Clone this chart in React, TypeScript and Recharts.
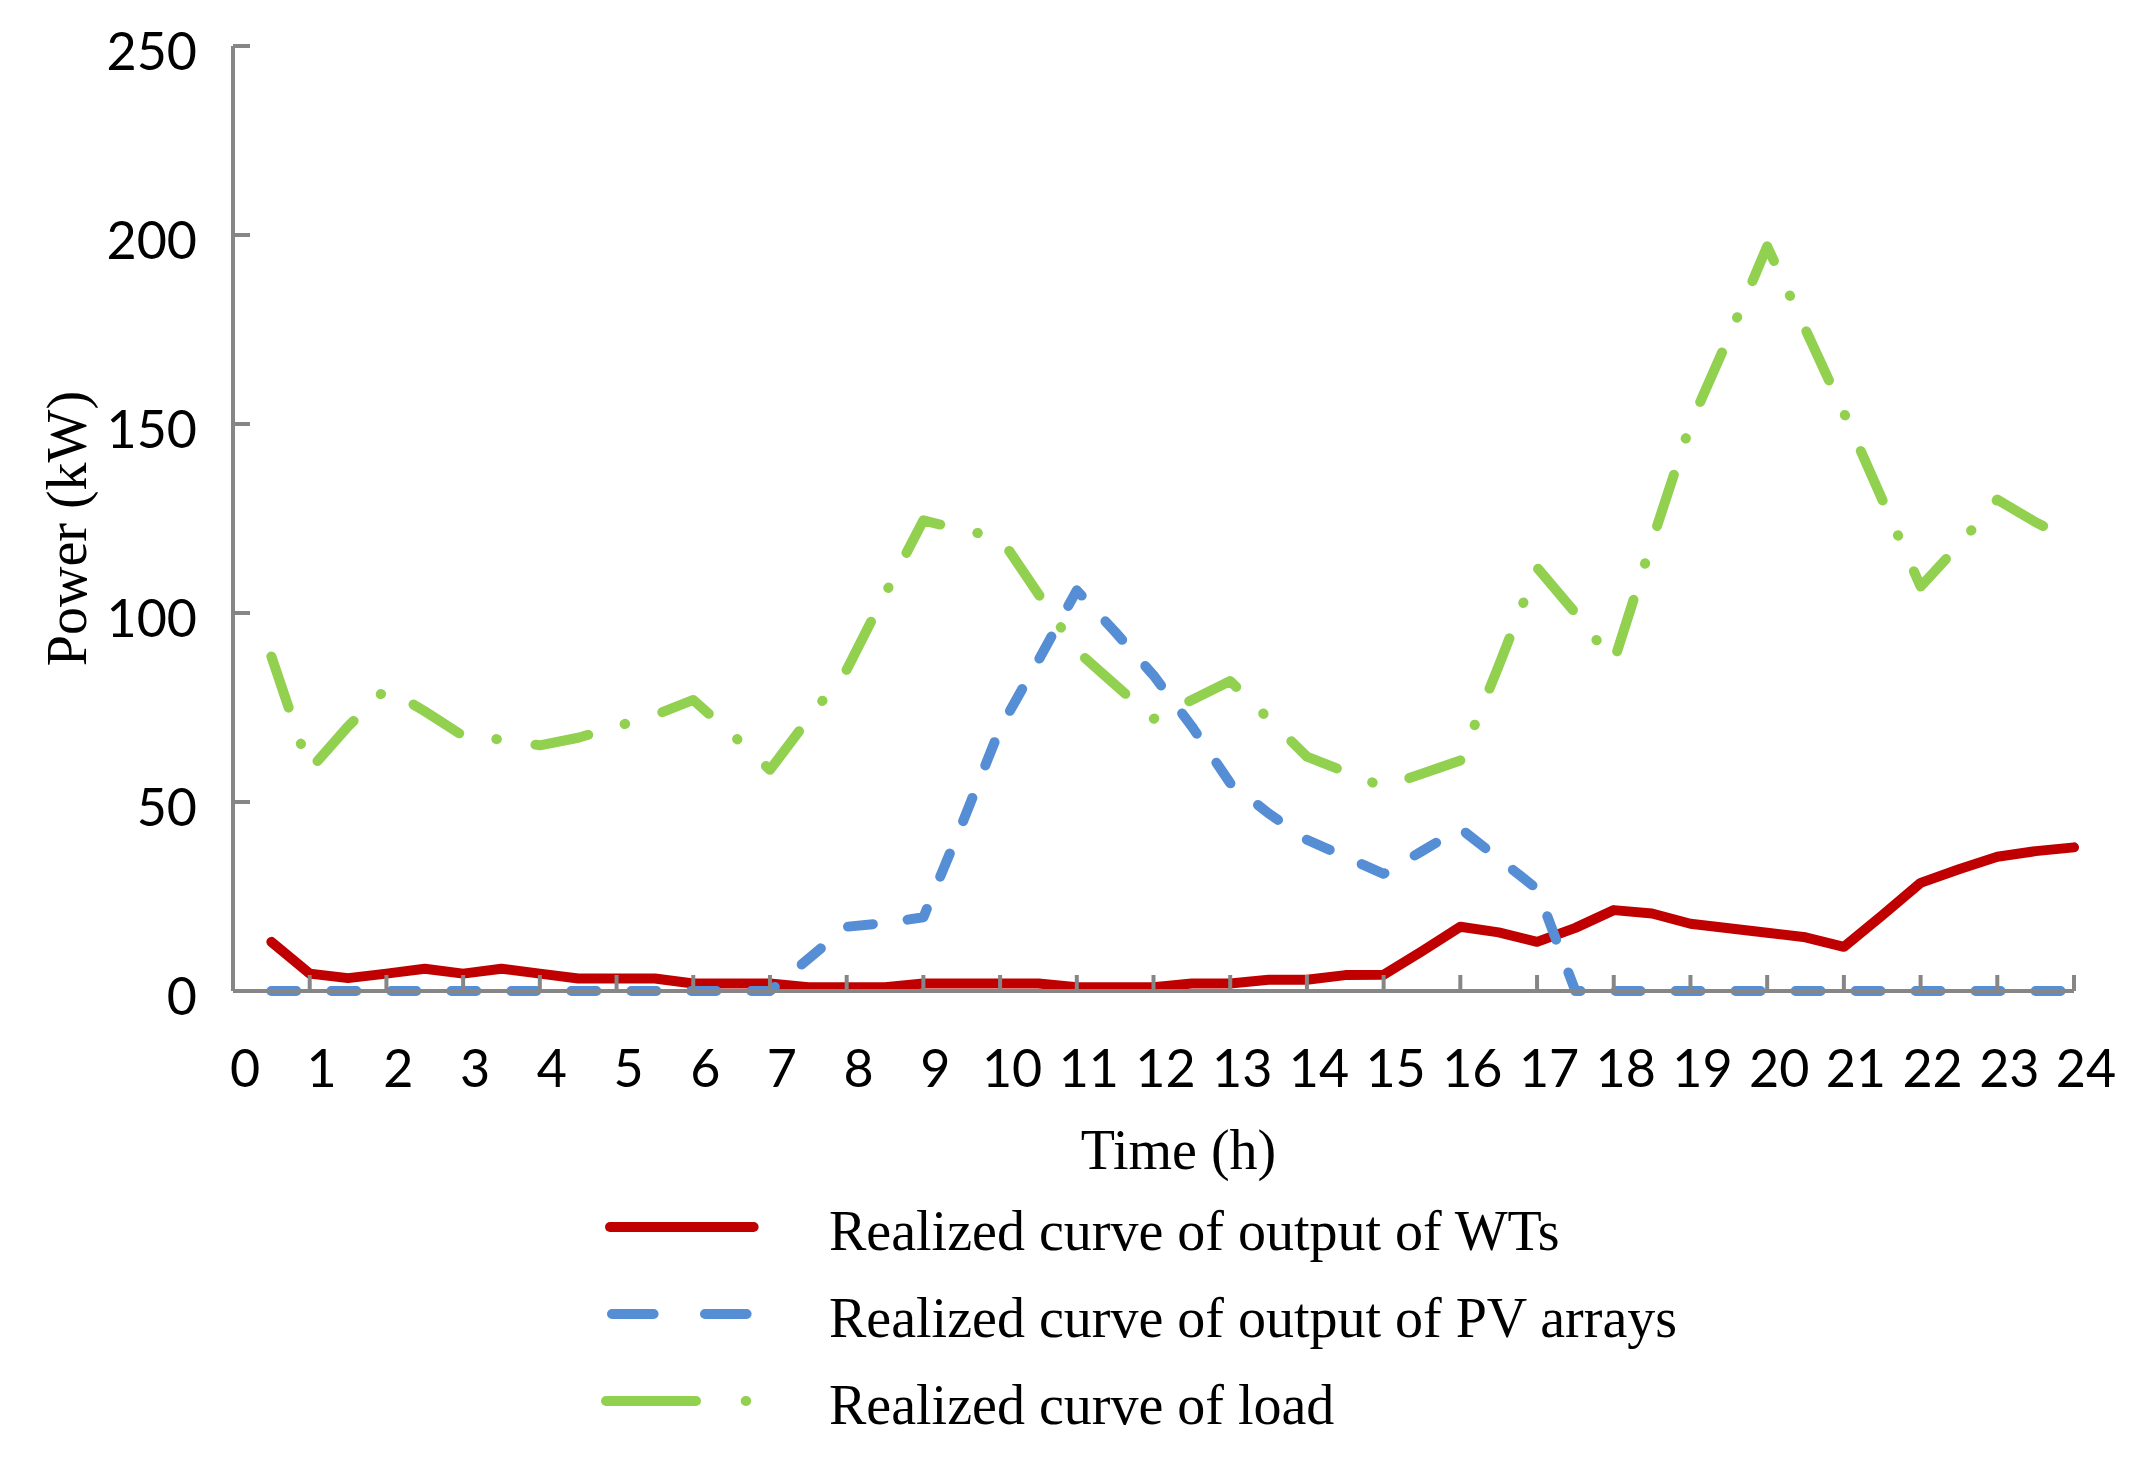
import React from "react";
import {
  LineChart,
  Line,
  XAxis,
  YAxis,
  Legend,
} from "recharts";

// half-hour steps, 0.5 h .. 24 h
const hours = [
  0.5, 1, 1.5, 2, 2.5, 3, 3.5, 4, 4.5, 5, 5.5, 6, 6.5, 7, 7.5, 8,
  8.5, 9, 9.5, 10, 10.5, 11, 11.5, 12, 12.5, 13, 13.5, 14, 14.5, 15, 15.5, 16,
  16.5, 17, 17.5, 18, 18.5, 19, 19.5, 20, 20.5, 21, 21.5, 22, 22.5, 23, 23.5, 24,
];

const wtOutput = [
  13, 4.6, 3.4, 4.6, 5.9, 4.6, 5.9, 4.6, 3.3, 3.3, 3.3, 2, 2, 2, 1, 1,
  1, 2, 2, 2, 2, 1, 1, 1, 2, 2, 3, 3, 4.2, 4.3, 10.5, 17,
  15.5, 13, 16.7, 21.4, 20.5, 17.8, 16.6, 15.4, 14.2, 11.7, 20, 28.6, 32.2, 35.5, 37, 38,
];

const pvOutput = [
  0, 0, 0, 0, 0, 0, 0, 0, 0, 0, 0, 0, 0, 0, 8.5, 17,
  18, 19.5, 44, 69.5, 87.5, 106, 95, 83.5, 70, 55, 47, 40, 35.5, 31, 37, 43,
  35, 27, 0, 0, 0, 0, 0, 0, 0, 0, 0, 0, 0, 0, 0, 0,
];

const loadPower = [
  88.5, 58.5, 70, 80, 74, 67.5, 66.5, 65, 67, 70, 73, 77, 68, 58.5, 72, 85,
  105, 124.5, 122, 120, 105, 90, 81, 72, 77, 82, 72, 62, 58, 54, 57.5, 61,
  86, 112, 100, 87, 119, 150, 173, 197, 175, 153, 130, 107, 118, 130, 124, 119,
];

const xTicks = [0, 1, 2, 3, 4, 5, 6, 7, 8, 9, 10, 11, 12, 13, 14, 15, 16, 17, 18, 19, 20, 21, 22, 23, 24];
const yTicks = [0, 50, 100, 150, 200, 250];

const data = hours.map((h, i) => ({
  hour: h,
  wt: wtOutput[i],
  pv: pvOutput[i],
  load: loadPower[i],
}));

const AXIS = "#868686";
const RED = "#C00000";
const BLUE = "#558ED5";
const GREEN = "#92D050";
const NUM_FONT = "Lato, Calibri, sans-serif";
const SERIF = '"Liberation Serif", "Times New Roman", serif';
const LW = 10;

const XTick = (props: any) => {
  const { x, y, payload } = props;
  return (
    <g>
      <line x1={x} x2={x} y1={y} y2={y - 16} stroke={AXIS} strokeWidth={4} />
      <text x={x + 12} y={y + 96} textAnchor="middle" fontFamily={NUM_FONT} fontSize={52} fill="#000">
        {payload.value}
      </text>
    </g>
  );
};

const YTick = (props: any) => {
  const { x, y, payload } = props;
  return (
    <g>
      <line x1={x} x2={x + 17} y1={y} y2={y} stroke={AXIS} strokeWidth={4} />
      <text x={x - 36} y={y + 24} textAnchor="end" fontFamily={NUM_FONT} fontSize={52} fill="#000">
        {payload.value}
      </text>
    </g>
  );
};

const legendRows = [
  { label: "Realized curve of output of WTs", color: RED, x1: 5, x2: 148.6, dash: undefined },
  { label: "Realized curve of output of PV arrays", color: BLUE, x1: 7, x2: 141.6, dash: "41.6 51.4" },
  { label: "Realized curve of load", color: GREEN, x1: 1, x2: 142, dash: "90 49.7 0.5 100" },
];

const LegendBox = () => (
  <div style={{ height: 264, paddingLeft: 597, boxSizing: "border-box" }}>
    {legendRows.map((r) => (
      <div key={r.label} style={{ display: "flex", height: 87 }}>
        <svg width={224} height={87} style={{ overflow: "visible", flex: "none" }}>
          <line
            x1={r.x1}
            x2={r.x2}
            y1={39}
            y2={39}
            stroke={r.color}
            strokeWidth={LW}
            strokeLinecap="round"
            strokeDasharray={r.dash}
          />
        </svg>
        <span style={{ fontFamily: SERIF, fontSize: 56, lineHeight: "87px", whiteSpace: "nowrap", color: "#000" }}>
          {r.label}
        </span>
      </div>
    ))}
  </div>
);

export default function App() {
  return (
    <LineChart
      width={2128}
      height={1444}
      data={data}
      margin={{ top: 38, right: 62, left: 0, bottom: 0 }}
    >
      <XAxis
        dataKey="hour"
        type="number"
        domain={[0, 24]}
        ticks={xTicks}
        interval={0}
        height={197}
        tickSize={0}
        tickMargin={0}
        tick={<XTick />}
        axisLine={{ stroke: AXIS, strokeWidth: 4 }}
        tickLine={false}
        label={{
          content: (p: any) => (
            <text
              x={p.viewBox.x + p.viewBox.width / 2 + 25}
              y={p.viewBox.y + 178}
              textAnchor="middle"
              fontFamily={SERIF}
              fontSize={56}
              fill="#000"
            >
              Time (h)
            </text>
          ),
        }}
      />
      <YAxis
        type="number"
        domain={[0, 250]}
        ticks={yTicks}
        interval={0}
        width={225}
        tickSize={0}
        tickMargin={0}
        tick={<YTick />}
        axisLine={{ stroke: AXIS, strokeWidth: 4 }}
        tickLine={false}
        label={{
          content: (p: any) => {
            const cx = 78;
            const cy = p.viewBox.y + p.viewBox.height / 2 + 10;
            return (
              <text
                x={cx}
                y={cy}
                transform={`rotate(-90, ${cx}, ${cy})`}
                textAnchor="middle"
                fontFamily={SERIF}
                fontSize={56}
                fill="#000"
              >
                Power (kW)
              </text>
            );
          },
        }}
      />
      <Legend verticalAlign="bottom" align="left" height={264} content={() => <LegendBox />} />
      <Line
        dataKey="wt"
        type="linear"
        stroke={RED}
        strokeWidth={LW}
        strokeLinecap="round"
        strokeLinejoin="round"
        dot={false}
        activeDot={false}
        isAnimationActive={false}
      />
      <Line
        dataKey="pv"
        type="linear"
        stroke={BLUE}
        strokeWidth={LW}
        strokeDasharray="25 35"
        strokeLinecap="round"
        strokeLinejoin="round"
        dot={false}
        activeDot={false}
        isAnimationActive={false}
      />
      <Line
        dataKey="load"
        type="linear"
        stroke={GREEN}
        strokeWidth={LW}
        strokeDasharray="54 38 0.5 39"
        strokeLinecap="round"
        strokeLinejoin="round"
        dot={false}
        activeDot={false}
        isAnimationActive={false}
      />
    </LineChart>
  );
}
